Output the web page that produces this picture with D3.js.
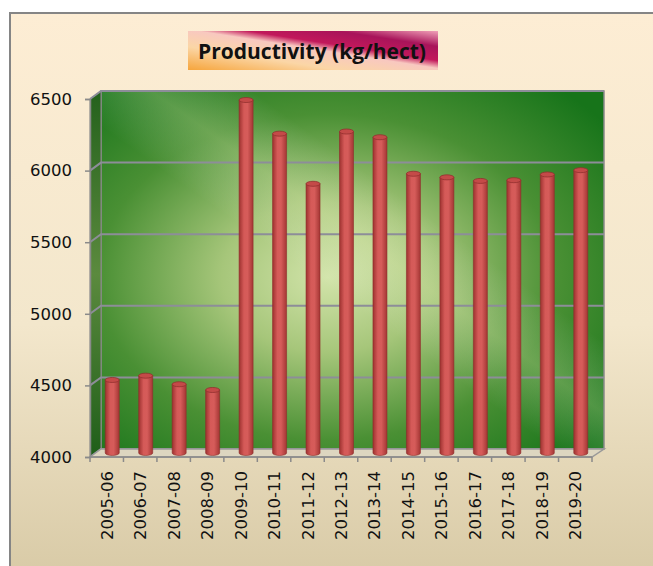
<!DOCTYPE html>
<html>
<head>
<meta charset="utf-8">
<script src="https://cdn.jsdelivr.net/npm/d3@7"></script>
<style>
body { margin: 0; background: #fff; }
svg { display: block; }
</style>
</head>
<body>
<div id="chart"></div>
<script>
var years = ['2005-06', '2006-07', '2007-08', '2008-09', '2009-10', '2010-11', '2011-12', '2012-13',
	'2013-14', '2014-15', '2015-16', '2016-17', '2017-18', '2018-19', '2019-20']
var productivity = [4510, 4540, 4480, 4440, 6465, 6230, 5880, 6245, 6205, 5950, 5925, 5900, 5905, 5945, 5975]
var yTicks = [4000, 4500, 5000, 5500, 6000, 6500]
var title = 'Productivity (kg/hect)'

var W = 653, H = 566
// front plane of the floor / axes
var pLeft = 90, pRight = 592, pBottom = 457, pTop = 99
// depth offset of the back wall
var dx = 11, dy = -8

var svg = d3.select('#chart').append('svg').attr('width', W).attr('height', H)
var defs = svg.append('defs')

var bg = defs.append('linearGradient').attr('id', 'bg').attr('x1', 0).attr('y1', 0).attr('x2', 0).attr('y2', 1)
bg.append('stop').attr('offset', '0%').attr('stop-color', '#fdedd4')
bg.append('stop').attr('offset', '55%').attr('stop-color', '#f3e7cc')
bg.append('stop').attr('offset', '100%').attr('stop-color', '#d8caa6')

var wall = defs.append('radialGradient').attr('id', 'wall')
	.attr('cx', '0.45').attr('cy', '0.52').attr('r', '0.7')
wall.append('stop').attr('offset', '0%').attr('stop-color', '#d2e4aa')
wall.append('stop').attr('offset', '30%').attr('stop-color', '#a6c67a')
wall.append('stop').attr('offset', '65%').attr('stop-color', '#4a9034')
wall.append('stop').attr('offset', '100%').attr('stop-color', '#17741a')

var streak = defs.append('linearGradient').attr('id', 'streak')
	.attr('x1', 0).attr('y1', 1).attr('x2', 1).attr('y2', 0)
streak.append('stop').attr('offset', '0%').attr('stop-color', '#fff').attr('stop-opacity', 0)
streak.append('stop').attr('offset', '45%').attr('stop-color', '#fff').attr('stop-opacity', 0)
streak.append('stop').attr('offset', '55%').attr('stop-color', '#f4f8c8').attr('stop-opacity', 0.22)
streak.append('stop').attr('offset', '65%').attr('stop-color', '#fff').attr('stop-opacity', 0)
streak.append('stop').attr('offset', '100%').attr('stop-color', '#fff').attr('stop-opacity', 0)

var side = defs.append('linearGradient').attr('id', 'side').attr('x1', 0).attr('y1', 0).attr('x2', 0).attr('y2', 1)
side.append('stop').attr('offset', '0%').attr('stop-color', '#24611c')
side.append('stop').attr('offset', '50%').attr('stop-color', '#5b8a3e')
side.append('stop').attr('offset', '100%').attr('stop-color', '#1f5e19')

var cyl = defs.append('linearGradient').attr('id', 'cyl').attr('x1', 0).attr('y1', 0).attr('x2', 1).attr('y2', 0)
cyl.append('stop').attr('offset', '0%').attr('stop-color', '#9e3230')
cyl.append('stop').attr('offset', '35%').attr('stop-color', '#d55a58')
cyl.append('stop').attr('offset', '60%').attr('stop-color', '#d65c5a')
cyl.append('stop').attr('offset', '100%').attr('stop-color', '#a43634')

var tbox = defs.append('linearGradient').attr('id', 'tbox').attr('x1', 0).attr('y1', 1).attr('x2', 1).attr('y2', 0)
tbox.append('stop').attr('offset', '0%').attr('stop-color', '#f6a53c')
tbox.append('stop').attr('offset', '30%').attr('stop-color', '#fbd6a6')
tbox.append('stop').attr('offset', '52%').attr('stop-color', '#f8c8c0')
tbox.append('stop').attr('offset', '62%').attr('stop-color', '#c2185b')
tbox.append('stop').attr('offset', '80%').attr('stop-color', '#a8145a')
tbox.append('stop').attr('offset', '100%').attr('stop-color', '#f0a0b8')

// chart area background + frame
svg.append('rect').attr('x', 10).attr('y', 13).attr('width', W).attr('height', H)
	.attr('fill', 'url(#bg)').attr('stroke', '#858585').attr('stroke-width', 2)

// title box
var tg = svg.append('g')
tg.append('rect').attr('x', 188).attr('y', 31).attr('width', 250).attr('height', 39).attr('fill', 'url(#tbox)')
tg.append('text').attr('x', 312).attr('y', 59).attr('text-anchor', 'middle')
	.style('font-family', 'Open Sans, sans-serif').style('font-weight', 'bold').style('font-size', '21px')
	.attr('fill', '#111').text(title)

var y = d3.scaleLinear().domain([4000, 6500]).range([pBottom, pTop])
var x = d3.scaleBand().domain(years).range([pLeft, pRight])

// back wall
svg.append('rect').attr('x', pLeft + dx).attr('y', pTop + dy).attr('width', pRight - pLeft + 1)
	.attr('height', pBottom - pTop).attr('fill', 'url(#wall)')
svg.append('rect').attr('x', pLeft + dx).attr('y', pTop + dy).attr('width', pRight - pLeft + 1)
	.attr('height', pBottom - pTop).attr('fill', 'url(#streak)')
svg.append('rect').attr('x', pLeft + dx).attr('y', pTop + dy).attr('width', pRight - pLeft + 1)
	.attr('height', pBottom - pTop).attr('fill', 'none').attr('stroke', '#8a8a8a').attr('stroke-width', 1.5)

// side wall
svg.append('path')
	.attr('d', 'M' + pLeft + ',' + pTop + 'L' + (pLeft + dx) + ',' + (pTop + dy) + 'L' + (pLeft + dx) + ',' + (pBottom + dy) +
		'L' + pLeft + ',' + pBottom + 'Z')
	.attr('fill', 'url(#side)').attr('stroke', '#8a8a8a').attr('stroke-width', 1)

// gridlines
var grid = svg.append('g')
yTicks.forEach(function(t) {
	var yy = y(t)
	grid.append('path')
		.attr('d', 'M' + pLeft + ',' + yy + 'L' + (pLeft + dx) + ',' + (yy + dy) + 'L' + (pRight + dx + 1) + ',' + (yy + dy))
		.attr('fill', 'none').attr('stroke', '#8d8d99').attr('stroke-width', 2)
})

// floor
svg.append('path')
	.attr('d', 'M' + pLeft + ',' + pBottom + 'L' + (pLeft + dx) + ',' + (pBottom + dy) + 'L' + (pRight + dx + 1) + ',' + (pBottom + dy) +
		'L' + pRight + ',' + pBottom + 'Z')
	.attr('fill', '#ddd6c0').attr('stroke', '#999').attr('stroke-width', 1.5)

// bars (cylinders at mid depth)
var bw = 14, ry = 2.5
var bars = svg.append('g').attr('transform', 'translate(' + (dx / 2) + ',' + (dy / 2) + ')')
var bar = bars.selectAll('g.bar').data(years).enter().append('g').attr('class', 'bar')
bar.append('path')
	.attr('d', function(d, i) {
		var cx = x(d) + x.bandwidth() / 2, x0 = cx - bw / 2, x1 = cx + bw / 2
		var yt = y(productivity[i]), yb = y(4000)
		return 'M' + x0 + ',' + yt + 'L' + x0 + ',' + yb + 'A' + (bw / 2) + ',' + ry + ' 0 0 0 ' + x1 + ',' + yb +
			'L' + x1 + ',' + yt + 'Z'
	})
	.attr('fill', 'url(#cyl)').attr('stroke', '#8e2e2c').attr('stroke-width', 0.6)
bar.append('ellipse')
	.attr('cx', function(d) { return x(d) + x.bandwidth() / 2 })
	.attr('cy', function(d, i) { return y(productivity[i]) })
	.attr('rx', bw / 2).attr('ry', ry)
	.attr('fill', '#c44a48').attr('stroke', '#93302e').attr('stroke-width', 0.8)

// y axis
var yAxis = svg.append('g').attr('transform', 'translate(' + pLeft + ',0)')
	.call(d3.axisLeft(y).tickValues(yTicks).tickSize(5).tickPadding(13).tickFormat(d3.format('d')))
yAxis.select('.domain').attr('stroke', '#8a8a8a').attr('stroke-width', 1.5)
yAxis.selectAll('.tick line').attr('stroke', '#8a8a8a').attr('stroke-width', 1.5)
yAxis.selectAll('.tick text').style('font-family', 'DejaVu Sans, sans-serif').style('font-size', '16.5px').attr('fill', '#111')

// x axis
var xAxis = svg.append('g').attr('transform', 'translate(0,' + pBottom + ')')
xAxis.append('line').attr('x1', pLeft).attr('x2', pRight).attr('y1', 0).attr('y2', 0)
	.attr('stroke', '#8a8a8a').attr('stroke-width', 1.5)
xAxis.selectAll('line.tk').data(years.concat(['end'])).enter().append('line').attr('class', 'tk')
	.attr('x1', function(d, i) { return pLeft + i * x.step() }).attr('x2', function(d, i) { return pLeft + i * x.step() })
	.attr('y1', 0).attr('y2', 5).attr('stroke', '#8a8a8a').attr('stroke-width', 1.5)
xAxis.selectAll('text').data(years).enter().append('text')
	.attr('transform', function(d) { return 'translate(' + (x(d) + x.bandwidth() / 2 + 6) + ',14) rotate(-90)' })
	.attr('text-anchor', 'end')
	.style('font-family', 'DejaVu Sans, sans-serif').style('font-size', '16.5px').attr('fill', '#111')
	.text(function(d) { return d })
</script>
</body>
</html>
